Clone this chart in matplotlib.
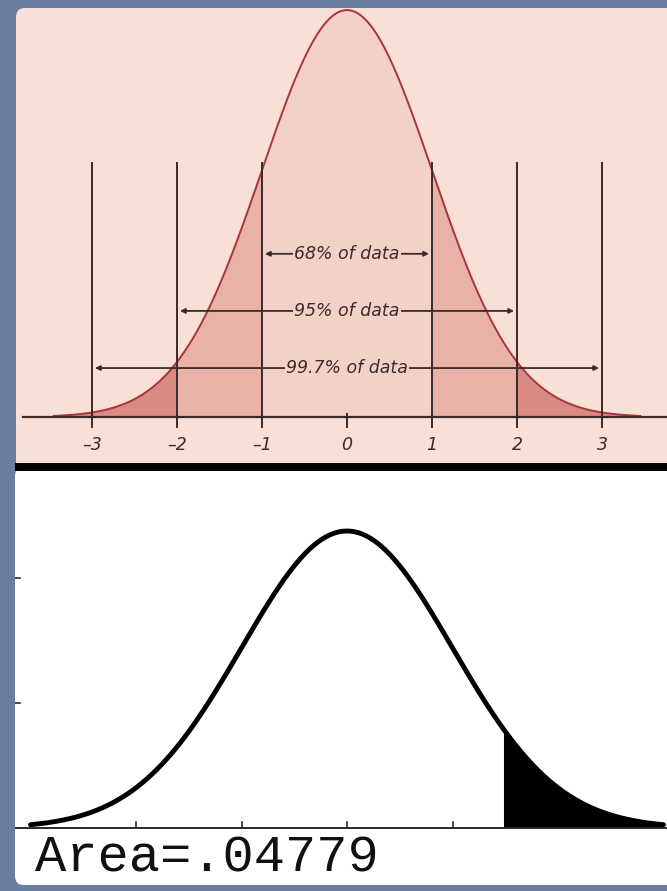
import numpy as np
import matplotlib
matplotlib.use("Agg")
import matplotlib.pyplot as plt
from matplotlib.patches import FancyBboxPatch, Rectangle
from matplotlib.transforms import IdentityTransform

W, H, DPI = 667, 891, 100

# ---- upper chart: empirical rule on a standard normal curve ----
mu, sd = 0.0, 1.0
sigma_marks = [-3, -2, -1, 0, 1, 2, 3]
tick_labels = ["\u20133", "\u20132", "\u20131", "0", "1", "2", "3"]
band_labels = ["68% of data", "95% of data", "99.7% of data"]
band_halfwidths = [1, 2, 3]
band_heights = [0.160, 0.104, 0.048]
guide_top = 0.249
curve_span = 3.45

# ---- lower chart: shaded upper tail ----
shade_from = 1.48
curve_span_low = 3.0
area_label = "Area=.04779"
low_xticks = [-2, -1, 0, 1]
low_yticks = [0.168, 0.336]

# colours
slate = "#6b7ea1"
pink_bg = "#f9e0d7"
fill_center = "#f4d1c7"
fill_mid = "#e9b2a7"
fill_tail = "#d98b81"
curve_red = "#a9333f"
ink = "#3a2a28"


def pdf(x):
    return np.exp(-0.5 * ((x - mu) / sd) ** 2) / (sd * np.sqrt(2 * np.pi))


fig = plt.figure(figsize=(W / DPI, H / DPI), dpi=DPI, facecolor=slate)


def panel(x0, y0, x1, y1, color, rounding=0):
    style = f"round,pad=0,rounding_size={rounding}" if rounding else "square,pad=0"
    p = FancyBboxPatch((x0, H - y1), x1 - x0, y1 - y0, boxstyle=style,
                       transform=IdentityTransform(), facecolor=color,
                       edgecolor="none", zorder=0)
    fig.add_artist(p)


panel(16, 8, 720, 475, pink_bg, rounding=9)
panel(15, 467, 720, 885, "white", rounding=9)
fig.add_artist(Rectangle((15, H - 471), 720, 8, transform=IdentityTransform(),
                         facecolor="black", edgecolor="none", zorder=1))

# ---------------- upper axes ----------------
cx_top, sx_top = 347.0, 85.0          # pixel of x=0, pixels per unit
base_top, sy_top = 417.0, 1020.0       # pixel of y=0, pixels per unit
ax1 = fig.add_axes([16 / W, 1 - 463 / H, (W - 16) / W, (463 - 8) / H])
ax1.set_xlim((16 - cx_top) / sx_top, (W - cx_top) / sx_top)
ax1.set_ylim((base_top - 463) / sy_top, (base_top - 8) / sy_top)
ax1.axis("off")
ax1.patch.set_alpha(0)

xs = np.linspace(-curve_span, curve_span, 800)
ys = pdf(xs)
ax1.fill_between(xs, 0, ys, where=np.abs(xs) <= 1.0, color=fill_center, lw=0, zorder=1)
ax1.fill_between(xs, 0, ys, where=(np.abs(xs) >= 1.0) & (np.abs(xs) <= 2.0),
                 color=fill_mid, lw=0, zorder=1)
ax1.fill_between(xs, 0, ys, where=np.abs(xs) >= 2.0, color=fill_tail, lw=0, zorder=1)
ax1.plot(xs, ys, color=curve_red, lw=1.4, zorder=3)

# guide lines at each standard deviation
for m, lab in zip(sigma_marks, tick_labels):
    if m != 0:
        ax1.plot([m, m], [0, guide_top], color=ink, lw=1.4, zorder=4)
    ax1.plot([m, m], [3 / sy_top, -10 / sy_top], color=ink, lw=1.4, zorder=4)
    ax1.text(m, -28 / sy_top, lab, ha="center", va="center", fontsize=12.5,
             style="italic", family="DejaVu Sans", color=ink, zorder=5)

ax1.plot([(23 - cx_top) / sx_top, (W - cx_top) / sx_top], [0, 0],
         color=ink, lw=1.6, zorder=4)

# coverage arrows
for lab, hw, yy in zip(band_labels, band_halfwidths, band_heights):
    ax1.annotate("", xy=(hw - 0.035, yy), xytext=(-hw + 0.035, yy),
                 arrowprops=dict(arrowstyle="<|-|>", mutation_scale=7,
                                 lw=1.3, color=ink, shrinkA=0, shrinkB=0),
                 zorder=5)
    ax1.text(0, yy, lab, ha="center", va="center", fontsize=12.5,
             style="italic", family="DejaVu Sans", color=ink, zorder=6,
             bbox=dict(boxstyle="square,pad=0.05", facecolor=fill_center,
                       edgecolor="none"))

# ---------------- lower axes ----------------
cx_low, sx_low = 347.0, 105.5
base_low, sy_low = 828.0, 744.5
ax2 = fig.add_axes([15 / W, 1 - 885 / H, (W - 15) / W, (885 - 471) / H])
x_left = (15 - cx_low) / sx_low
ax2.set_xlim(x_left, (W - cx_low) / sx_low)
ax2.set_ylim((base_low - 885) / sy_low, (base_low - 471) / sy_low)
ax2.axis("off")
ax2.patch.set_alpha(0)

xl = np.linspace(-curve_span_low, curve_span_low, 800)
yl = pdf(xl)
tail = xl >= shade_from
ax2.fill_between(xl[tail], 0, yl[tail], color="black", lw=0, zorder=2)
ax2.axhline(0, color="#2b2b2b", lw=1.4, zorder=3)
ax2.plot(xl, yl, color="black", lw=3.5, solid_capstyle="round", zorder=4)

for t in low_xticks:
    ax2.plot([t, t], [0, 6 / sy_low], color="#2b2b2b", lw=1.2, zorder=3)
for t in low_yticks:
    ax2.plot([x_left, x_left + 5 / sx_low], [t, t], color="#2b2b2b", lw=1.2, zorder=3)

ax2.text((35 - cx_low) / sx_low, (base_low - 872) / sy_low, area_label,
         family="Liberation Mono", fontsize=37.5, color="#111111",
         ha="left", va="baseline", zorder=5)

fig.savefig("out.png", dpi=DPI, facecolor=slate)
